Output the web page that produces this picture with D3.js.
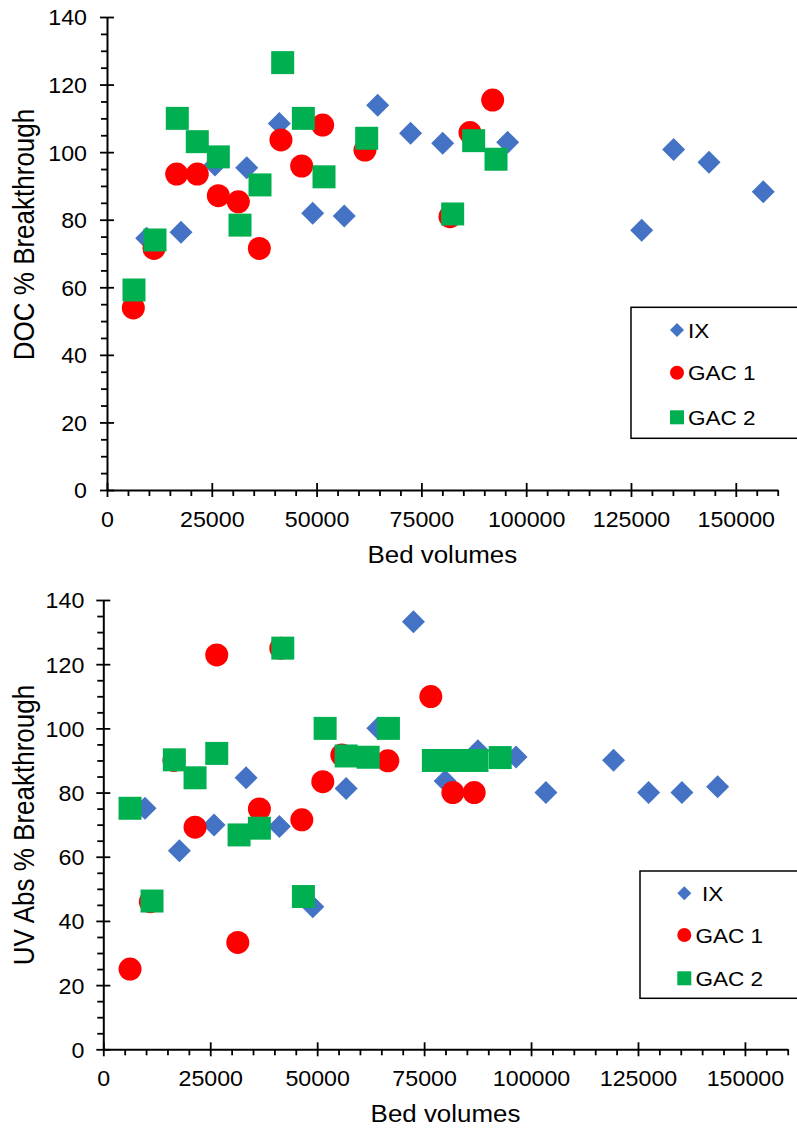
<!DOCTYPE html>
<html>
<head>
<meta charset="utf-8">
<script src="https://cdn.jsdelivr.net/npm/d3@7"></script>
<style>
  body { margin: 0; background: #fff; }
  svg { display: block; }
</style>
</head>
<body>
<div id="chart"></div>
<script>
// shared axes
const xMajor = [0, 25000, 50000, 75000, 100000, 125000, 150000];
const yMajor = [0, 20, 40, 60, 80, 100, 120, 140];
const xMax = 160000;
const yMax = 140;
const seriesNames = ["IX", "GAC 1", "GAC 2"];

// DOC % breakthrough vs bed volumes
const docIX = [[9470, 74.5], [17650, 76.3], [25760, 96.2], [33330, 95.4], [41100, 108.5],
  [49070, 81.9], [56600, 81.1], [64570, 113.9], [72420, 105.6], [80080, 102.6],
  [95580, 102.9], [127550, 76.9], [135180, 100.8], [143610, 97.0], [156560, 88.3]];
const docGAC1 = [[6280, 53.9], [11210, 71.5], [16620, 93.5], [21540, 93.5], [26560, 87.1],
  [31330, 85.3], [36340, 71.5], [41500, 103.6], [46440, 95.9], [51450, 108.0],
  [61540, 100.6], [81820, 80.9], [86590, 105.8], [92000, 115.4]];
const docGAC2 = [[6440, 59.2], [11450, 74.0], [16770, 110.0], [21540, 103.1], [26560, 98.6],
  [31730, 78.4], [36500, 90.3], [41910, 126.5], [46840, 110.0], [51770, 92.7],
  [61950, 104.1], [82460, 81.7], [87470, 103.4], [92800, 97.9]];

// UV Abs % breakthrough vs bed volumes
const uvIX = [[9750, 75.1], [17780, 61.9], [25890, 69.9], [33380, 84.6], [41170, 69.4],
  [48980, 44.4], [56770, 81.3], [64180, 100.0], [72510, 133.2], [79920, 83.6],
  [87570, 93.0], [96500, 91.1], [103480, 80.0], [119290, 90.1], [127480, 80.0],
  [135280, 80.0], [143620, 81.8]];
const uvGAC1 = [[6250, 25.0], [11000, 46.0], [16500, 90.0], [21450, 69.2], [26520, 122.9],
  [31440, 33.3], [36490, 74.9], [41500, 125.0], [46410, 71.5], [51310, 83.4],
  [55760, 91.7], [66520, 89.9], [76570, 109.9], [81720, 80.0], [86710, 80.0]];
const uvGAC2 = [[6250, 75.1], [11390, 46.2], [16610, 90.2], [21450, 84.6], [26520, 92.2],
  [31740, 66.8], [36490, 68.9], [41960, 125.0], [46780, 47.6], [51860, 100.0],
  [56770, 91.4], [61910, 91.0], [66660, 100.0], [77160, 90.0], [82260, 90.0],
  [87360, 90.0], [92790, 90.9]];

const colors = ["#4472C4", "#FF0000", "#00B050"];
const font = "'Liberation Sans', Arial, sans-serif";

// marker shapes, size = (width across)^2
const diamond = { draw(ctx, size) { const r = Math.sqrt(size) / 2;
  ctx.moveTo(0, -r); ctx.lineTo(r, 0); ctx.lineTo(0, r); ctx.lineTo(-r, 0); ctx.closePath(); } };
const circle = { draw(ctx, size) { const r = Math.sqrt(size) / 2;
  ctx.moveTo(r, 0); ctx.arc(0, 0, r, 0, 2 * Math.PI); } };
const square = { draw(ctx, size) { const r = Math.sqrt(size) / 2; ctx.rect(-r, -r, 2 * r, 2 * r); } };
const shapes = [diamond, circle, square];

const svg = d3.select("#chart").append("svg")
  .attr("width", 797).attr("height", 1130);

function drawChart(c) {
  const x = d3.scaleLinear().domain([0, xMax]).range([c.left, c.right]);
  const y = d3.scaleLinear().domain([0, yMax]).range([c.bottom, c.top]);
  const g = svg.append("g");

  const xMinor = d3.range(0, xMax + 1, 5000).filter(v => v % 25000);
  const yMinor = d3.range(0, yMax + 1, 5).filter(v => v % 20);

  // minor ticks (outside)
  g.append("g").attr("transform", `translate(0,${c.bottom})`)
    .call(d3.axisBottom(x).tickValues(xMinor).tickSize(6).tickFormat(""))
    .call(a => a.select(".domain").remove());
  g.append("g").attr("transform", `translate(${c.left},0)`)
    .call(d3.axisLeft(y).tickValues(yMinor).tickSize(6).tickFormat(""))
    .call(a => a.select(".domain").remove());

  // major axes, ticks cross the line
  const xAxis = g.append("g").attr("transform", `translate(0,${c.bottom})`)
    .call(d3.axisBottom(x).tickValues(xMajor).tickSizeInner(7).tickSizeOuter(0).tickFormat(d => d));
  xAxis.selectAll(".tick line").attr("y1", -7);
  xAxis.selectAll(".tick text").attr("dy", null).attr("y", 37)
    .attr("transform", "scale(1.08,1)");

  const yAxis = g.append("g").attr("transform", `translate(${c.left},0)`)
    .call(d3.axisLeft(y).tickValues(yMajor).tickSizeInner(7).tickSizeOuter(0).tickFormat(d => d));
  yAxis.selectAll(".tick line").attr("x1", 7);
  yAxis.selectAll(".tick text").attr("x", -c.labelGap / 1.08).attr("dy", "0.37em")
    .attr("transform", "scale(1.08,1)");

  g.selectAll(".tick text").style("font-family", font).style("font-size", "21.5px").attr("fill", "#000");
  g.selectAll(".domain").attr("stroke", "#000").attr("stroke-width", 2);
  g.selectAll(".tick line").attr("stroke", "#000").attr("stroke-width", 1.8);

  // axis titles
  g.append("text")
    .attr("transform", `translate(${(c.left + c.right) / 2},${c.bottom + 73}) scale(1.08,1)`)
    .attr("text-anchor", "middle")
    .style("font-family", font).style("font-size", "24px")
    .text("Bed volumes");
  g.append("text")
    .attr("transform", `translate(${c.titleX},${c.titleY}) rotate(-90) scale(1,1.1)`)
    .attr("text-anchor", "middle")
    .style("font-family", font).style("font-size", "26px")
    .text(c.yTitle);

  // points: IX, then GAC 1, then GAC 2 on top
  c.series.forEach((data, i) => {
    g.append("g").selectAll("path")
      .data(data)
      .enter()
      .append("path")
      .attr("transform", d => `translate(${x(d[0])},${y(d[1])})`)
      .attr("d", d3.symbol().type(shapes[i]).size(23 * 23))
      .attr("fill", colors[i]);
  });

  // handmade legend
  const L = c.legend;
  g.append("rect").attr("x", L.x).attr("y", L.y).attr("width", 200).attr("height", L.h)
    .attr("fill", "#fff").attr("stroke", "#000").attr("stroke-width", 1.5);
  seriesNames.forEach((name, i) => {
    g.append("path")
      .attr("transform", `translate(${L.x + L.mx},${L.y + L.rows[i]})`)
      .attr("d", d3.symbol().type(shapes[i]).size(14 * 14))
      .attr("fill", colors[i]);
    g.append("text")
      .attr("transform", `translate(${L.x + L.tx[i]},${L.y + L.rows[i] + 7.5}) scale(1.1,1)`)
      .style("font-family", font).style("font-size", "20.5px")
      .text(name);
  });
}

drawChart({
  left: 107, right: 777.7, top: 17, bottom: 490, labelGap: 20,
  yTitle: "DOC % Breakthrough", titleX: 34, titleY: 234.5,
  series: [docIX, docGAC1, docGAC2],
  legend: { x: 631, y: 307.3, h: 131, mx: 46, tx: [57, 57, 57], rows: [22.7, 65.4, 110] }
});

drawChart({
  left: 103.3, right: 787.7, top: 600, bottom: 1049.3, labelGap: 19,
  yTitle: "UV Abs % Breakthrough", titleX: 33.5, titleY: 825,
  series: [uvIX, uvGAC1, uvGAC2],
  legend: { x: 640, y: 871, h: 127.3, mx: 44.3, tx: [62, 55.5, 55.5], rows: [22.3, 64, 107.3] }
});
</script>
</body>
</html>
